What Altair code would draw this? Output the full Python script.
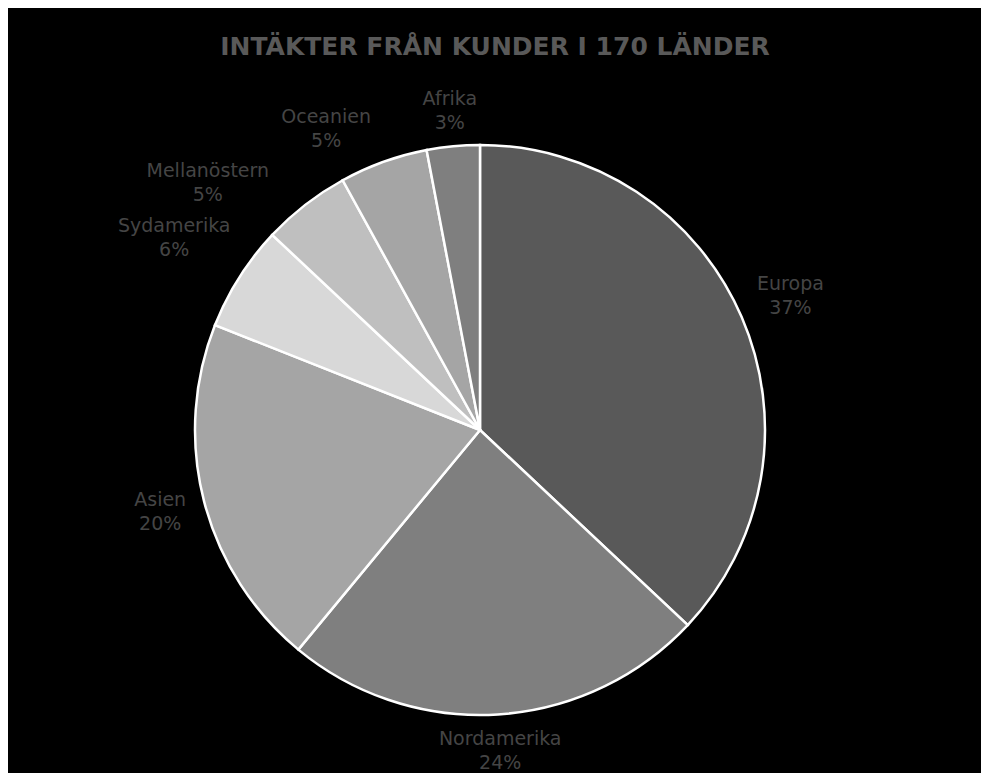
import math
import altair as alt
import pandas as pd

regions = ["Europa", "Nordamerika", "Asien", "Sydamerika", "Mellanöstern", "Oceanien", "Afrika"]
shares = [37, 24, 20, 6, 5, 5, 3]
colors = ["#595959", "#7f7f7f", "#a5a5a5", "#d8d8d8", "#bfbfbf", "#a5a5a5", "#7f7f7f"]
title_text = "INTÄKTER FRÅN KUNDER I 170 LÄNDER"

CX, CY = 472, 422
R = 285
GAP = 292
CHAR_W = 6.6
HALF_H = 25
PAD_X, PAD_Y = 30, 4

# label layout: boxes placed outside the pie, pushed counter-clockwise on collision
total = sum(shares)
cum = 0
mids = []
for s in shares:
    mids.append((cum + s / 2) / total * 360)
    cum += s


def place(angle, hw):
    a = math.radians(angle)
    r = GAP + hw * abs(math.sin(a)) + HALF_H * abs(math.cos(a))
    return CX + r * math.sin(a), CY - r * math.cos(a)


placed = {}
for i in reversed(range(len(regions))):
    hw = len(regions[i]) * CHAR_W
    ang = mids[i]
    for _ in range(200):
        x, y = place(ang, hw)
        hit = False
        for (px, py, phw) in placed.values():
            if abs(x - px) < hw + phw + PAD_X and abs(y - py) < 2 * HALF_H + PAD_Y:
                hit = True
                break
        if not hit:
            break
        ang -= 0.25
    placed[i] = (x, y, hw)

df = pd.DataFrame({"region": regions, "share": shares, "order": list(range(len(regions)))})
df["label"] = [f"{r}\n{s}%" for r, s in zip(regions, shares)]
df["lx"] = [placed[i][0] for i in range(len(regions))]
df["ly"] = [placed[i][1] - 12 for i in range(len(regions))]

pie = alt.Chart(df).mark_arc(outerRadius=R, stroke="white", strokeWidth=2.5).encode(
    theta=alt.Theta("share:Q", stack=True),
    order=alt.Order("order:Q"),
    x=alt.value(CX),
    y=alt.value(CY),
    color=alt.Color("region:N", scale=alt.Scale(domain=regions, range=colors), legend=None),
)

labels = alt.Chart(df).mark_text(
    font="DejaVu Sans", fontSize=19, color="#454545",
    lineBreak="\n", lineHeight=24, align="center", baseline="middle"
).encode(
    x=alt.X("lx:Q", scale=None),
    y=alt.Y("ly:Q", scale=None),
    text="label:N",
)

title = alt.Chart(pd.DataFrame({"t": [title_text]})).mark_text(
    font="DejaVu Sans", fontSize=25, fontWeight="bold", color="#595959",
    align="center", baseline="middle"
).encode(text="t:N", x=alt.value(487), y=alt.value(39))

chart = alt.layer(pie, labels, title).properties(
    width=973, height=765, background="black", padding=0,
    autosize=alt.AutoSizeParams(type="none")
).configure_view(stroke=None)

chart.save("out.html", embed_options={"renderer": "svg", "actions": False})
